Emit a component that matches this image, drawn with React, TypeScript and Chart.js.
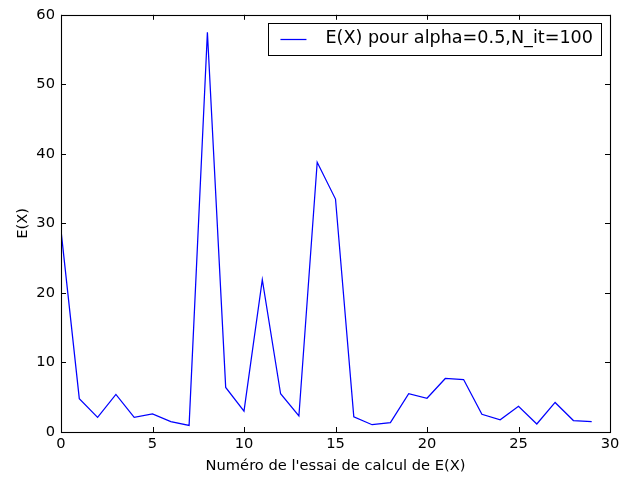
import { useEffect, useRef } from 'react';
import { Chart, registerables } from 'chart.js';

Chart.register(...registerables);

const trials = [0, 1, 2, 3, 4, 5, 6, 7, 8, 9, 10, 11, 12, 13, 14, 15, 16, 17, 18, 19, 20, 21, 22, 23, 24, 25, 26, 27, 28, 29];
const expectations = [29.0, 4.8, 2.1, 5.4, 2.1, 2.6, 1.5, 0.95, 57.5, 6.4, 3.0, 21.9, 5.5, 2.3, 38.8, 33.5, 2.2, 1.05, 1.35, 5.5, 4.85, 7.7, 7.55, 2.55, 1.75, 3.7, 1.15, 4.25, 1.65, 1.5];
const xTickValues = [0, 5, 10, 15, 20, 25, 30];
const yTickValues = [0, 10, 20, 30, 40, 50, 60];
const seriesLabel = 'E(X) pour alpha=0.5,N_it=100';
const xTitle = "Numéro de l'essai de calcul de E(X)";
const yTitle = 'E(X)';

const FONT = "'DejaVu Sans', sans-serif";

const framePlugin = {
  id: 'mplFrame',
  afterDatasetsDraw(chart: any) {
    const { ctx, chartArea } = chart;
    const { left, right, top, bottom } = chartArea;
    const xs = chart.scales.x;
    const ys = chart.scales.y;
    const tl = 5;
    ctx.save();
    ctx.strokeStyle = '#000';
    ctx.lineWidth = 1;
    ctx.beginPath();
    xTickValues.forEach((v) => {
      const px = Math.round(xs.getPixelForValue(v)) + 0.5;
      ctx.moveTo(px, bottom);
      ctx.lineTo(px, bottom - tl);
      ctx.moveTo(px, top);
      ctx.lineTo(px, top + tl);
    });
    yTickValues.forEach((v) => {
      const py = Math.round(ys.getPixelForValue(v)) + 0.5;
      ctx.moveTo(left, py);
      ctx.lineTo(left + tl, py);
      ctx.moveTo(right, py);
      ctx.lineTo(right - tl, py);
    });
    ctx.stroke();
    ctx.lineWidth = 1.1;
    ctx.strokeRect(Math.round(left) + 0.5, Math.round(top) + 0.5, Math.round(right - left), Math.round(bottom - top));

    // legend
    const ds = chart.data.datasets[0];
    ctx.font = `17.6px ${FONT}`;
    const tw = ctx.measureText(ds.label).width;
    const boxRight = right - 9;
    const boxTop = top + 8;
    const boxH = 32;
    const boxW = 12 + 26 + 19 + tw + 8;
    const boxLeft = boxRight - boxW;
    ctx.fillStyle = '#fff';
    ctx.fillRect(boxLeft, boxTop, boxW, boxH);
    ctx.lineWidth = 1;
    ctx.strokeStyle = '#000';
    ctx.strokeRect(Math.round(boxLeft) + 0.5, Math.round(boxTop) + 0.5, Math.round(boxW), boxH);
    const cy = boxTop + boxH / 2;
    ctx.strokeStyle = ds.borderColor;
    ctx.lineWidth = 1.25;
    ctx.beginPath();
    ctx.moveTo(boxLeft + 12, Math.round(cy) + 0.5);
    ctx.lineTo(boxLeft + 38, Math.round(cy) + 0.5);
    ctx.stroke();
    ctx.fillStyle = '#000';
    ctx.textBaseline = 'middle';
    ctx.textAlign = 'left';
    ctx.fillText(ds.label, boxLeft + 57, cy);
    ctx.restore();
  },
};

export default function App() {
  const ref = useRef<HTMLCanvasElement | null>(null);
  useEffect(() => {
    if (!ref.current) return;
    const tickFont = { family: FONT, size: 14.67 };
    const chart = new Chart(ref.current, {
      type: 'line',
      data: {
        datasets: [
          {
            label: seriesLabel,
            data: trials.map((t, i) => ({ x: t, y: expectations[i] })),
            borderColor: '#0000ff',
            borderWidth: 1.25,
            pointRadius: 0,
            tension: 0,
            fill: false,
          },
        ],
      },
      options: {
        responsive: false,
        animation: false,
        devicePixelRatio: 1,
        layout: { padding: { top: 14, right: 21, left: 0, bottom: 0 } },
        plugins: { legend: { display: false }, tooltip: { enabled: false } },
        scales: {
          x: {
            type: 'linear',
            min: 0,
            max: 30,
            afterBuildTicks: (s: any) => {
              s.ticks = xTickValues.map((v) => ({ value: v }));
            },
            ticks: { color: '#000', font: tickFont, padding: 3, maxRotation: 0, autoSkip: false },
            grid: { display: false, drawTicks: false },
            border: { display: false },
            title: { display: true, text: xTitle, color: '#000', font: tickFont, padding: { top: 4, bottom: 4 } },
            afterFit: (s: any) => {
              s.height = 47;
            },
          },
          y: {
            type: 'linear',
            min: 0,
            max: 60,
            afterBuildTicks: (s: any) => {
              s.ticks = yTickValues.map((v) => ({ value: v }));
            },
            ticks: { color: '#000', font: tickFont, padding: 6, autoSkip: false },
            grid: { display: false, drawTicks: false },
            border: { display: false },
            title: { display: true, text: yTitle, color: '#000', font: tickFont, padding: { top: 14, bottom: 0 } },
            afterFit: (s: any) => {
              s.width = 61;
            },
          },
        },
      },
      plugins: [framePlugin],
    });
    return () => chart.destroy();
  }, []);
  return (
    <div style={{ position: 'absolute', left: 0, top: 0, width: 631, height: 479, background: '#fff' }}>
      <canvas ref={ref} width={631} height={479} style={{ width: 631, height: 479 }} />
    </div>
  );
}
